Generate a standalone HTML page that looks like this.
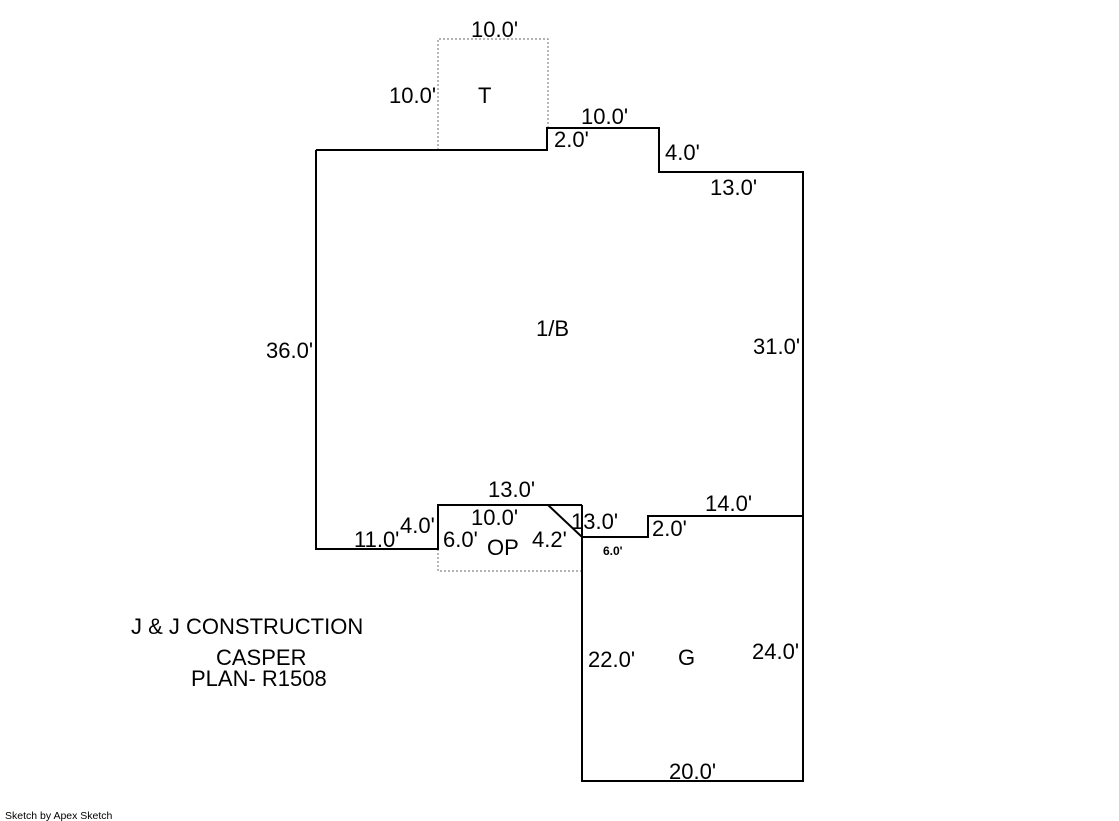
<!DOCTYPE html>
<html><head><meta charset="utf-8"><style>
html,body{margin:0;padding:0;background:#fff;width:1119px;height:821px;overflow:hidden}
svg text{font-family:"Liberation Sans",Arial,sans-serif;font-size:22px;fill:#000}
</style></head><body>
<svg width="1119" height="821" viewBox="0 0 1119 821" xmlns="http://www.w3.org/2000/svg">
<g fill="none" stroke="#888" stroke-width="1.2" stroke-dasharray="2,2">
<polyline points="438,150 438,39 548,39 548,128"/>
<polyline points="438,549 438,571 582,571 582,538"/>
</g>
<g fill="none" stroke="#000" stroke-width="2">
<polyline points="316,150 547,150 547,128 659,128 659,172 803,172 803,516 648,516 648,537 582,537 548,505 438,505 438,549 316,549 316,150"/>
<polyline points="582,505 582,781 803,781 803,516"/>
<line x1="548" y1="505" x2="582" y2="505"/>
</g>
<text x="471" y="37">10.0'</text>
<text x="389" y="103">10.0'</text>
<text x="478" y="103">T</text>
<text x="581" y="124">10.0'</text>
<text x="554" y="147">2.0'</text>
<text x="665" y="160">4.0'</text>
<text x="710" y="195">13.0'</text>
<text x="536" y="336">1/B</text>
<text x="266" y="358">36.0'</text>
<text x="753" y="354">31.0'</text>
<text x="488" y="497">13.0'</text>
<text x="471" y="525">10.0'</text>
<text x="400" y="533">4.0'</text>
<text x="354" y="547">11.0'</text>
<text x="443" y="547">6.0'</text>
<text x="487" y="555">OP</text>
<text x="532" y="547">4.2'</text>
<text x="571" y="529">13.0'</text>
<text x="705" y="511">14.0'</text>
<text x="652" y="536">2.0'</text>
<text x="603" y="555" style="font-size:12px;font-weight:bold">6.0'</text>
<text x="588" y="667">22.0'</text>
<text x="678" y="665">G</text>
<text x="752" y="659">24.0'</text>
<text x="669" y="779">20.0'</text>
<text x="131" y="634">J &amp; J CONSTRUCTION</text>
<text x="216" y="665">CASPER</text>
<text x="191" y="686">PLAN- R1508</text>
<text x="5" y="819" style="font-size:10.5px">Sketch by Apex Sketch</text>
</svg>
</body></html>
